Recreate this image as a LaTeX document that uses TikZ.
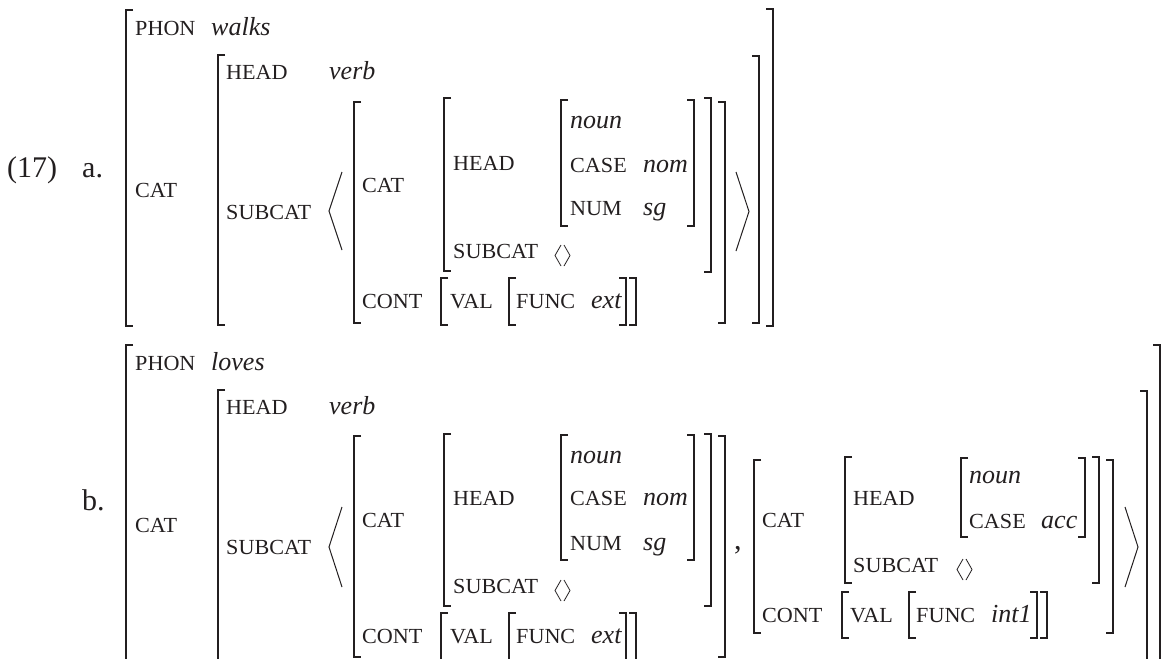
\documentclass[tikz,border=0pt]{standalone}
\usepackage{fontspec}
\setmainfont{Liberation Serif}
\newfontfamily\labfam[FakeStretch=1.03]{Liberation Serif}
\newcommand\labfont{\labfam\fontsize{21.5}{23}\selectfont}
\newcommand\valfont{\itshape\fontsize{26}{30}\selectfont}
\newcommand\numfont{\fontsize{30}{34}\selectfont}
\definecolor{ink}{HTML}{231F20}
\newcommand\LBr[3]{\draw[br] (#1+7,#2) -- (#1,#2) -- (#1,#3) -- (#1+7,#3);}
\newcommand\RBr[3]{\draw[br] (#1-7,#2) -- (#1,#2) -- (#1,#3) -- (#1-7,#3);}
\newcommand\LAng[3]{\draw[ang] (#1+13,#2) -- (#1,#2/2+#3/2) -- (#1+13,#3);}
\newcommand\RAng[3]{\draw[ang] (#1-13,#2) -- (#1,#2/2+#3/2) -- (#1-13,#3);}
\newcommand\Empt[2]{\draw[sang] (#1+6,#2-13) -- (#1,#2-2.5) -- (#1+6,#2+8);
  \draw[sang] (#1+9,#2-13) -- (#1+15,#2-2.5) -- (#1+9,#2+8);}
\begin{document}
\begin{tikzpicture}[x=1pt,y=-1pt,
  lab/.style={font=\labfont,text=ink,anchor=base west,inner sep=0pt},
  val/.style={font=\valfont,text=ink,anchor=base west,inner sep=0pt},
  num/.style={font=\numfont,text=ink,anchor=base west,inner sep=0pt},
  br/.style={line width=1.25pt,draw=ink},
  ang/.style={line width=1.0pt,draw=ink},
  sang/.style={line width=0.8pt,draw=ink}]
\useasboundingbox (0,0) rectangle (1163,659);
\fill[white] (0,0) rectangle (1163,659);
% ---------- (17) a. ----------
\node[num] (ex) at (7,177) {(17)};
\node[num] (la) at (82,177) {a.};
\node[lab] (aPhon) at (135,35) {PHON};
\node[val] (aWalks) at (211,35) {walks};
\node[lab] (aCat) at (135,197) {CAT};
\node[lab] (aHead) at (226,79) {HEAD};
\node[val] (aVerb) at (329,79) {verb};
\node[lab] (aSubcat) at (226,219) {SUBCAT};
\node[lab] (aCat2) at (362,192) {CAT};
\node[lab] (aHead2) at (453,170) {HEAD};
\node[val] (aNoun) at (570,128) {noun};
\node[lab] (aCase) at (570,172) {CASE};
\node[val] (aNom) at (643,172) {nom};
\node[lab] (aNum) at (570,215) {NUM};
\node[val] (aSg) at (643,215) {sg};
\node[lab] (aSubcat2) at (453,258) {SUBCAT};
\node[lab] (aCont) at (362,308) {CONT};
\node[lab] (aVal) at (450,308) {VAL};
\node[lab] (aFunc) at (516,308) {FUNC};
\node[val] (aExt) at (591,308) {ext};
\Empt{555}{258}
\LBr{126}{10}{326} \RBr{773}{9}{326}
\LBr{218}{55}{325} \RBr{759}{56}{323}
\LBr{354}{102}{323} \RBr{725}{102}{323}
\LBr{444}{98}{271} \RBr{711}{98}{272}
\LBr{561}{100}{226} \RBr{694}{100}{226}
\LBr{441}{278}{325} \RBr{636}{278}{325}
\LBr{509}{278}{325} \RBr{626}{278}{325}
\LAng{329}{172}{250}
\RAng{749}{172}{251}
% ---------- b. ----------
\node[num] (lb) at (82,510) {b.};
\node[lab] (bPhon) at (135,370) {PHON};
\node[val] (bLoves) at (211,370) {loves};
\node[lab] (bCat) at (135,532) {CAT};
\node[lab] (bHead) at (226,414) {HEAD};
\node[val] (bVerb) at (329,414) {verb};
\node[lab] (bSubcat) at (226,554) {SUBCAT};
\node[lab] (bCat2) at (362,527) {CAT};
\node[lab] (bHead2) at (453,505) {HEAD};
\node[val] (bNoun) at (570,463) {noun};
\node[lab] (bCase) at (570,505) {CASE};
\node[val] (bNom) at (643,505) {nom};
\node[lab] (bNum) at (570,550) {NUM};
\node[val] (bSg) at (643,550) {sg};
\node[lab] (bSubcat2) at (453,593) {SUBCAT};
\node[lab] (bCont) at (362,643) {CONT};
\node[lab] (bVal) at (450,643) {VAL};
\node[lab] (bFunc) at (516,643) {FUNC};
\node[val] (bExt) at (591,643) {ext};
\Empt{555}{593}
\node[val,font=\numfont] (bComma) at (734,549) {,};
\node[lab] (bCat3) at (762,527) {CAT};
\node[lab] (bHead3) at (853,505) {HEAD};
\node[val] (bNoun2) at (969,483) {noun};
\node[lab] (bCase2) at (969,528) {CASE};
\node[val] (bAcc) at (1041,528) {acc};
\node[lab] (bSubcat3) at (853,572) {SUBCAT};
\node[lab] (bCont2) at (762,622) {CONT};
\node[lab] (bVal2) at (850,622) {VAL};
\node[lab] (bFunc2) at (916,622) {FUNC};
\node[val] (bInt) at (991,622) {int1};
\Empt{957}{572}
\LBr{126}{345}{680} \RBr{1160}{345}{680}
\LBr{218}{390}{680} \RBr{1147}{391}{680}
\LBr{354}{436}{657} \RBr{725}{436}{657}
\LBr{444}{434}{606} \RBr{711}{434}{606}
\LBr{561}{435}{560} \RBr{694}{435}{560}
\LBr{441}{613}{680} \RBr{636}{613}{680}
\LBr{509}{613}{680} \RBr{626}{613}{680}
\LAng{329}{507}{587}
\LBr{754}{460}{633} \RBr{1113}{460}{633}
\LBr{845}{457}{583} \RBr{1099}{457}{583}
\LBr{961}{458}{537} \RBr{1085}{458}{537}
\LBr{842}{592}{638} \RBr{1047}{592}{638}
\LBr{909}{592}{638} \RBr{1037}{592}{638}
\RAng{1138}{507}{587}
\end{tikzpicture}
\end{document}
